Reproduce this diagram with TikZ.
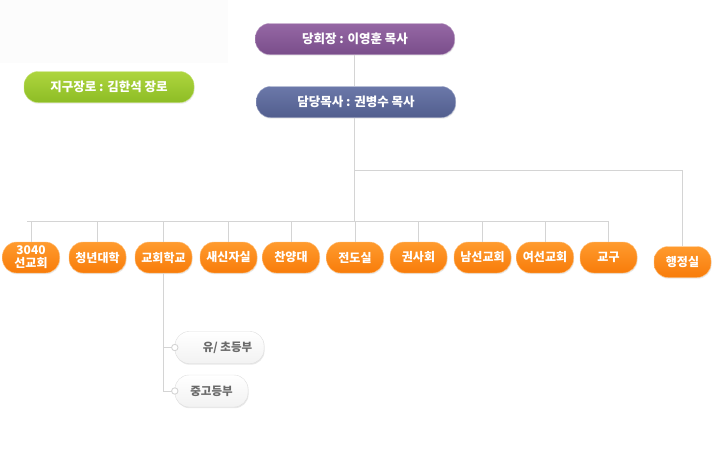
\documentclass[tikz,border=0pt]{standalone}
\usepackage{fontspec}
\setmainfont{Noto Sans CJK KR}
\usetikzlibrary{shadows}
\definecolor{linegray}{HTML}{D4D4D4}
\definecolor{purpletop}{HTML}{9567A4}
\definecolor{purplebot}{HTML}{7A4E8B}
\definecolor{bluetop}{HTML}{6B78A9}
\definecolor{bluebot}{HTML}{525E8E}
\definecolor{greentop}{HTML}{AED53E}
\definecolor{greenbot}{HTML}{8DBD25}
\definecolor{orangetop}{HTML}{FF9B2E}
\definecolor{orangebot}{HTML}{F87C0A}
\definecolor{subtext}{HTML}{6A6A6A}

\begin{document}
\begin{tikzpicture}[x=1pt,y=-1pt,
  link/.style={linegray, line width=0.9pt},
  pill/.style={rectangle, rounded corners=14pt, minimum height=31pt, inner sep=1pt,
    text=white, font=\fontsize{12.5}{13}\selectfont\bfseries, align=center,
    drop shadow={opacity=0.18, shadow xshift=0.6pt, shadow yshift=-1.2pt}},
  chairbox/.style={pill, draw=purpletop!70!white, top color=purpletop, bottom color=purplebot, minimum width=199pt},
  pastorbox/.style={pill, draw=bluetop!70!white, top color=bluetop, bottom color=bluebot, minimum width=199pt},
  elderbox/.style={pill, draw=greentop!70!white, top color=greentop, bottom color=greenbot, minimum width=170pt},
  dept/.style={pill, draw=orangetop!60!white, top color=orangetop, bottom color=orangebot,
    minimum width=57pt, font=\fontsize{12}{12.5}\selectfont\bfseries},
  subdept/.style={pill, draw=black!13, top color=white, bottom color=black!5, text=subtext,
    minimum height=32pt, font=\fontsize{11.5}{13}\selectfont\bfseries}]
\useasboundingbox (0,0) rectangle (715,471);
\fill[black!1] (0,0) rectangle (228,63);

% top
\node[chairbox] (chair) at (355,39) {당회장 : 이영훈 목사};
\node[pastorbox] (pastor) at (356,102) {담당목사 : 권병수 목사};
\node[elderbox] (elder) at (109,87) {지구장로 : 김한석 장로};

% departments
\node[dept] (c3040) at (31,257.5) {3040\\[0.5pt]선교회};
\node[dept] (youth) at (97.5,257.5) {청년대학};
\node[dept] (edu) at (163.5,257.5) {교회학교};
\node[dept] (newcomer) at (228.5,257.5) {새신자실};
\node[dept] (choir) at (291,257.5) {찬양대};
\node[dept] (evang) at (355,257.5) {전도실};
\node[dept] (kwonsa) at (418.5,257.5) {권사회};
\node[dept] (men) at (482.5,257.5) {남선교회};
\node[dept] (women) at (545,257.5) {여선교회};
\node[dept] (gyogu) at (608.5,257.5) {교구};
\node[dept] (admin) at (682.5,262) {행정실};

% school
\node[subdept, minimum width=89pt] (elem) at (219.5,347.5) {\hspace*{16pt}유/ 초등부};
\node[subdept, minimum width=73pt] (mid) at (211.5,391) {중고등부};

\coordinate (busL) at (27,221);
\coordinate (busR) at (609,221);
\coordinate (fork) at (354,170);

% lines
\draw[link] (chair.south -| fork) -- (pastor.north -| fork);
\draw[link] (pastor.south -| fork) -- (busL -| fork);
\draw[link] (busL) -- (busR);
\foreach \n in {c3040,youth,edu,newcomer,choir,evang,kwonsa,men,women,gyogu}
  \draw[link] (\n.north) -- (\n.north |- busL);
\draw[link] (fork) -| (admin.north);
\draw[link] (edu.south) |- (elem.west);
\draw[link] (edu.south) |- (mid.west);
\foreach \n in {elem,mid}
  \draw[link, fill=white] (\n.west) circle (3.2);
\end{tikzpicture}
\end{document}
